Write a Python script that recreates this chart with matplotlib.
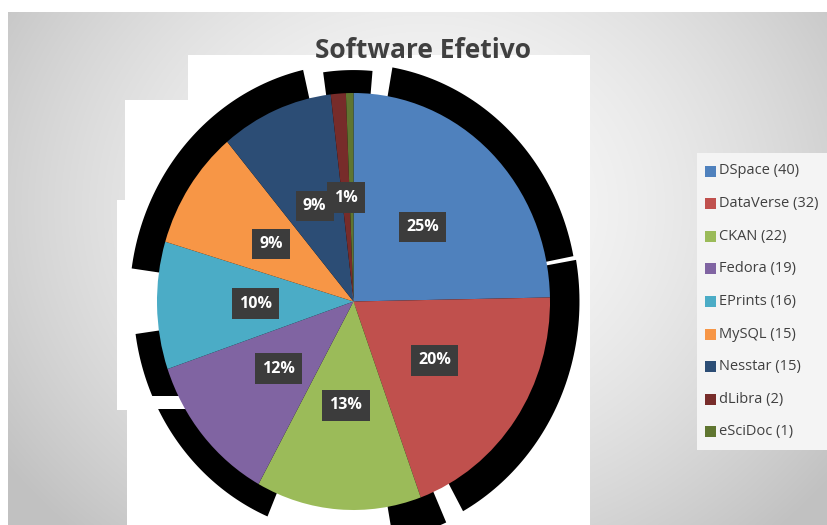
import numpy as np
import matplotlib.pyplot as plt
from matplotlib.patches import Rectangle, Polygon

# Data
labels = ["DSpace", "DataVerse", "CKAN", "Fedora", "EPrints", "MySQL", "Nesstar", "dLibra", "eSciDoc"]
counts = [40, 32, 22, 19, 16, 15, 15, 2, 1]
pct_text = ["25%", "20%", "13%", "12%", "10%", "9%", "9%", "1%", ""]
colors = ["#4F81BD", "#C0504D", "#9BBB59", "#8064A2", "#4BACC6",
          "#F79646", "#2C4D75", "#772C2A", "#5F7530"]

W, H = 828, 525
fig = plt.figure(figsize=(W / 100, H / 100), dpi=100)
fig.patch.set_facecolor("white")

# background axes in pixel coordinates
bg = fig.add_axes([0, 0, 1, 1])
bg.set_xlim(0, W)
bg.set_ylim(H, 0)
bg.axis("off")

# gray radial gradient
yy, xx = np.mgrid[0:H, 0:W]
d = np.sqrt(((xx - 420) / 480.0) ** 2 + ((yy - 200) / 420.0) ** 2)
g = np.clip(0.985 - 0.2 * d ** 1.6, 0.76, 1.0)
bg.imshow(np.dstack([g, g, g]), extent=[8, W, H, 12], zorder=0, aspect="auto")

# white blocks behind the pie
for (x0, y0, x1, y1) in [(188, 55, 590, 525), (125, 100, 190, 200),
                         (117, 200, 190, 410), (127, 410, 190, 525)]:
    bg.add_patch(Rectangle((x0, y0), x1 - x0, y1 - y0, color="white", lw=0, zorder=1))

# black shadow pieces around the pie (angles clockwise from top)
cx, cy, rx, ry = 353.5, 301.5, 196.5, 208.5
shadow = [(10, 79, 1.14), (80, 151, 1.15), (156, 170, 1.16),
          (203, 262, 1.12), (278, 347, 1.14), (352, 365, 1.11)]
for a0, a1, f in shadow:
    a = np.radians(np.linspace(a0, a1, 60))
    pts = [(cx, cy)] + list(zip(cx + f * rx * np.sin(a), cy - f * ry * np.cos(a)))
    bg.add_patch(Polygon(pts, closed=True, color="black", lw=0, zorder=2))
bg.add_patch(Rectangle((117, 396), 133, 13, color="white", lw=0, zorder=3))

# pie
ax = fig.add_axes([157 / W, (H - 510) / H, 393 / W, 417 / H])
wedges, _ = ax.pie(counts, colors=colors, startangle=90, counterclock=False,
                   wedgeprops=dict(linewidth=0))
ax.set_xlim(-1, 1)
ax.set_ylim(-1, 1)
ax.set_aspect("auto")
ax.axis("off")

total = sum(counts)
ang = 90
for c, t in zip(counts, pct_text):
    span = 360 * c / total
    mid = np.radians(ang - span / 2)
    ang -= span
    if not t:
        continue
    ax.text(0.5 * np.cos(mid), 0.5 * np.sin(mid), t, ha="center", va="center",
            color="white", fontsize=11.5, fontweight="bold", family="Open Sans",
            bbox=dict(boxstyle="square,pad=0.45", fc="#3c3c3c", ec="none"))

# title
fig.text(423 / W, 1 - 50 / H, "Software Efetivo", ha="center", va="center",
         fontsize=19, fontweight="bold", color="#404040", family="Open Sans")

# legend box
bg.add_patch(Rectangle((697, 153), W - 697, 297, color="#f4f4f4", lw=0, zorder=4))
for i, (lab, n, col) in enumerate(zip(labels, counts, colors)):
    y = 171 + i * 32.6
    bg.add_patch(Rectangle((705, y - 5.5), 11, 11, color=col, lw=0, zorder=5))
    bg.text(719, y, f"{lab} ({n})", ha="left", va="center", fontsize=10.5,
            color="#404040", family="Open Sans", zorder=6)

fig.savefig("out.png", dpi=100)
